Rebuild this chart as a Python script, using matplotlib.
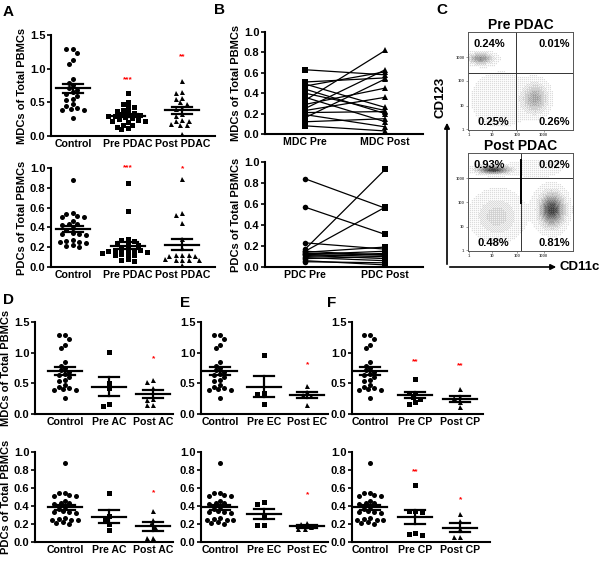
import numpy as np
import matplotlib.pyplot as plt
from matplotlib.patches import FancyArrowPatch

plt.rcParams['font.family'] = ['Liberation Sans', 'DejaVu Sans']
plt.rcParams['font.weight'] = 'bold'
plt.rcParams['axes.labelweight'] = 'bold'

W, H = 600, 566

# --- panel A / D / E / F data (fraction of total PBMCs) ---
mdc_control = [1.29, 1.29, 1.23, 1.13, 1.07, 0.84, 0.79, 0.75, 0.71, 0.69, 0.65,
               0.63, 0.60, 0.55, 0.53, 0.47, 0.44, 0.42, 0.39, 0.39, 0.40, 0.26]
mdc_pre_pdac = [0.64, 0.51, 0.47, 0.43, 0.43, 0.39, 0.37, 0.35, 0.34, 0.32, 0.31, 0.30,
                0.29, 0.28, 0.27, 0.25, 0.24, 0.22, 0.22, 0.21, 0.17, 0.16, 0.14, 0.12, 0.10]
mdc_post_pdac = [0.82, 0.66, 0.64, 0.57, 0.55, 0.50, 0.47, 0.42, 0.40, 0.33, 0.30,
                 0.24, 0.23, 0.22, 0.18, 0.17, 0.16, 0.03]
pdc_control = [0.88, 0.55, 0.54, 0.52, 0.51, 0.51, 0.46, 0.43, 0.43, 0.42, 0.39, 0.37,
               0.34, 0.33, 0.33, 0.32, 0.27, 0.26, 0.25, 0.24, 0.22, 0.21, 0.20, 0.25]
pdc_pre_pdac = [0.85, 0.57, 0.28, 0.27, 0.26, 0.24, 0.23, 0.22, 0.18, 0.18, 0.17, 0.17,
                0.17, 0.16, 0.15, 0.14, 0.13, 0.13, 0.12, 0.12, 0.08, 0.07, 0.06]
pdc_post_pdac = [0.89, 0.55, 0.53, 0.44, 0.28, 0.19, 0.12, 0.12, 0.12, 0.11, 0.11,
                 0.07, 0.07, 0.07, 0.07, 0.08, 0.02]

mdc_pre_ac = [1.01, 0.50, 0.42, 0.16, 0.13]
mdc_post_ac = [0.55, 0.52, 0.42, 0.25, 0.23, 0.15, 0.15]
pdc_pre_ac = [0.54, 0.29, 0.25, 0.20, 0.13]
pdc_post_ac = [0.35, 0.25, 0.20, 0.17, 0.04, 0.04]

mdc_pre_ec = [0.96, 0.34, 0.32, 0.17]
mdc_post_ec = [0.45, 0.36, 0.31, 0.30, 0.15]
pdc_pre_ec = [0.44, 0.42, 0.30, 0.19, 0.19]
pdc_post_ec = [0.21, 0.20, 0.17, 0.15, 0.14]

mdc_pre_cp = [0.57, 0.35, 0.34, 0.28, 0.25, 0.19, 0.17]
mdc_post_cp = [0.41, 0.28, 0.26, 0.19, 0.11]
pdc_pre_cp = [0.63, 0.35, 0.34, 0.33, 0.10, 0.09, 0.08]
pdc_post_cp = [0.31, 0.23, 0.14, 0.06, 0.06]

# --- panel B paired data ---
b_mdc_pre = [0.63, 0.51, 0.49, 0.47, 0.44, 0.40, 0.36, 0.33, 0.29, 0.25, 0.23, 0.21, 0.19, 0.16, 0.12, 0.08]
b_mdc_post = [0.58, 0.55, 0.26, 0.61, 0.20, 0.23, 0.12, 0.82, 0.45, 0.63, 0.36, 0.22, 0.07, 0.54, 0.15, 0.03]
b_pdc_pre = [0.84, 0.57, 0.23, 0.17, 0.15, 0.14, 0.13, 0.12, 0.12, 0.11, 0.10, 0.09, 0.08, 0.06, 0.05, 0.15]
b_pdc_post = [0.56, 0.31, 0.17, 0.93, 0.57, 0.19, 0.12, 0.15, 0.10, 0.08, 0.13, 0.06, 0.10, 0.02, 0.04, 0.11]

# --- panel C: quadrant percentages and population centres (axes fraction) ---
pre_pcts = ['0.24%', '0.01%', '0.25%', '0.26%']
post_pcts = ['0.93%', '0.02%', '0.48%', '0.81%']
# (x, y, sx, sy, density)
pre_pops = [(0.12, 0.73, 0.07, 0.035, 0.55), (0.64, 0.32, 0.07, 0.09, 0.42),
            (0.30, 0.30, 0.17, 0.17, 0.08), (0.5, 0.5, 0.6, 0.6, 0.015)]
post_pops = [(0.24, 0.83, 0.09, 0.025, 1.0), (0.80, 0.42, 0.07, 0.10, 0.95),
             (0.27, 0.35, 0.13, 0.13, 0.18), (0.65, 0.85, 0.18, 0.06, 0.05), (0.5, 0.5, 0.6, 0.6, 0.02)]
flow_ticks = ['1', '10', '100', '1000']

fig = plt.figure(figsize=(6, 5.66), dpi=100)


def box(x0, y0, x1, y1):
    return fig.add_axes([x0 / W, 1 - y1 / H, (x1 - x0) / W, (y1 - y0) / H])


def style(ax, ylim, yticks):
    for s in ['top', 'right']:
        ax.spines[s].set_visible(False)
    for s in ['left', 'bottom']:
        ax.spines[s].set_linewidth(1.5)
    ax.set_ylim(*ylim)
    ax.set_yticks(yticks)
    ax.set_yticklabels(['%.1f' % t for t in yticks])
    ax.tick_params(axis='y', length=3, width=1.2, pad=1, labelsize=8)
    ax.tick_params(axis='x', length=0, pad=2, labelsize=7.6)


def swarm(vals, xs, ys, d=4.8):
    # simple beeswarm: spread points that overlap in pixel space
    vals = np.asarray(vals)
    cand = np.arange(-8, 8.01, 0.5) * d * 0.9
    cand = cand[np.argsort(np.abs(cand), kind='stable')]
    placed, off = [], np.zeros(len(vals))
    for i in np.argsort(vals)[::-1]:
        y = vals[i] * ys
        for x in cand:
            if all((x - px) ** 2 + (y - py) ** 2 >= d * d for px, py in placed):
                break
        placed.append((x, y))
        off[i] = x / xs
    return off


def dotplot(ax, groups, markers, labels, xlim, ylim, yticks, stars):
    style(ax, ylim, yticks)
    ax.set_xlim(*xlim)
    pos = ax.get_position()
    xs = pos.width * W / (xlim[1] - xlim[0])
    ys = pos.height * H / (ylim[1] - ylim[0])
    for i, (vals, m) in enumerate(zip(groups, markers)):
        vals = np.asarray(vals)
        off = swarm(vals, xs, ys)
        ax.plot(i + off, vals, m, color='k', ms=3.6, mew=0, ls='none', clip_on=False)
        mean = vals.mean()
        sem = vals.std(ddof=1) / np.sqrt(len(vals))
        ax.plot([i - 17 / xs, i + 17 / xs], [mean, mean], 'k', lw=1.6)
        for v in (mean - sem, mean + sem):
            ax.plot([i - 10 / xs, i + 10 / xs], [v, v], 'k', lw=1.6)
        ax.plot([i, i], [mean - sem, mean + sem], 'k', lw=1.6)
    for i, y, t in stars:
        ax.text(i, y, t, color='red', fontsize=6, ha='center', va='center')
    ax.set_xticks(range(len(labels)))
    ax.set_xticklabels(labels)


mdc_y = ((0, 1.5), [0, 0.5, 1.0, 1.5])
pdc_y = ((0, 1.0), [0, 0.2, 0.4, 0.6, 0.8, 1.0])
mk = ['o', 's', '^']

# Panel A
ax = box(51, 35, 215, 136)
dotplot(ax, [mdc_control, mdc_pre_pdac, mdc_post_pdac], mk, ['Control', 'Pre PDAC', 'Post PDAC'],
        (-0.4, 2.6), *mdc_y, [(1, 0.84, '***'), (2, 1.18, '**')])
ax.set_ylabel('MDCs of Total PBMCs', fontsize=8, labelpad=2)
ax = box(51, 168, 215, 267)
dotplot(ax, [pdc_control, pdc_pre_pdac, pdc_post_pdac], mk, ['Control', 'Pre PDAC', 'Post PDAC'],
        (-0.4, 2.6), *pdc_y, [(1, 1.0, '***'), (2, 0.99, '*')])
ax.set_ylabel('PDCs of Total PBMCs', fontsize=8, labelpad=2)

# Panel B
for (y0, y1), pre, post, m0, m1, labs, yl in [
        ((32, 134), b_mdc_pre, b_mdc_post, 's', '^', ['MDC Pre', 'MDC Post'], 'MDCs of Total PBMCs'),
        ((162, 267), b_pdc_pre, b_pdc_post, 'o', 's', ['PDC Pre', 'PDC Post'], 'PDCs of Total PBMCs')]:
    ax = box(265, y0, 423, y1)
    style(ax, *pdc_y)
    ax.set_xlim(-0.5, 1.47)
    for a, b in zip(pre, post):
        ax.plot([0, 1], [a, b], 'k-', lw=0.9)
    ax.plot(np.zeros(len(pre)), pre, m0, color='k', ms=4.0, mew=0, ls='none', clip_on=False)
    ax.plot(np.ones(len(post)), post, m1, color='k', ms=4.0, mew=0, ls='none', clip_on=False)
    ax.set_xticks([0, 1])
    ax.set_xticklabels(labs)
    ax.set_ylabel(yl, fontsize=8, labelpad=2)

# 4x4 ordered-dither matrix, used to turn the population density into dots
bayer = np.array([[0, 8, 2, 10], [12, 4, 14, 6], [3, 11, 1, 9], [15, 7, 13, 5]]) / 16.0 + 1 / 32


# Panel C: flow plots
def flow(y0, y1, pops, gx, gy, pcts, title, seg=None):
    ax = box(468, y0, 573, y1)
    nx, ny = 210, 196
    xx, yy = np.meshgrid(np.linspace(0, 1, nx), np.linspace(0, 1, ny))
    z = np.zeros_like(xx)
    for cx, cy, sx, sy, w in pops:
        z += w * np.exp(-((xx - cx) ** 2 / (2 * sx ** 2) + (yy - cy) ** 2 / (2 * sy ** 2)))
    thr = np.tile(bayer, (ny // 4 + 1, nx // 4 + 1))[:ny, :nx]
    dots = (z > thr).astype(float) * 0.8
    ax.imshow(dots, extent=[0, 1, 0, 1], origin='lower', cmap='Greys', vmin=0, vmax=1,
              aspect='auto', interpolation='antialiased')
    ax.axvline(gx, color='#333333', lw=0.7)
    ax.axhline(gy, color='#333333', lw=0.7)
    if seg:
        ax.plot([gx, gx], seg, color='k', lw=1.4)
    for s in ax.spines.values():
        s.set_linewidth(0.7)
        s.set_color('#555555')
    ax.set_xlim(0, 1)
    ax.set_ylim(0, 1)
    ax.set_xticks([0.01, 0.23, 0.47, 0.72])
    ax.set_xticklabels(flow_ticks)
    ax.set_yticks([0.01, 0.25, 0.50, 0.74])
    ax.set_yticklabels(flow_ticks)
    ax.tick_params(length=1.5, width=0.4, labelsize=3, pad=1, colors='#555555')
    kw = dict(fontsize=8, fontweight='bold', va='center', transform=ax.transAxes)
    ax.text(0.20, 0.88, pcts[0], ha='center', **kw)
    ax.text(0.97, 0.88, pcts[1], ha='right', **kw)
    ax.text(0.24, 0.08, pcts[2], ha='center', **kw)
    ax.text(0.97, 0.08, pcts[3], ha='right', **kw)
    ax.set_title(title, fontsize=10, fontweight='bold', pad=1)


flow(32, 130, pre_pops, 0.46, 0.58, pre_pcts, 'Pre PDAC')
flow(153, 251, post_pops, 0.50, 0.74, post_pcts, 'Post PDAC', seg=(0.49, 0.93))

ox, oy = 447 / W, 1 - 267 / H
fig.add_artist(FancyArrowPatch((ox, oy), (ox, 1 - 120 / H), transform=fig.transFigure,
                               arrowstyle='-|>', mutation_scale=8, lw=1.2, color='k'))
fig.add_artist(FancyArrowPatch((ox, oy), (559 / W, oy), transform=fig.transFigure,
                               arrowstyle='-|>', mutation_scale=8, lw=1.2, color='k'))
fig.text(560 / W, oy, 'CD11c', fontsize=9.5, fontweight='bold', va='center')
fig.text(441 / W, 1 - 97 / H, 'CD123', fontsize=9.5, fontweight='bold', va='center',
         ha='center', rotation=90)

# Panels D, E, F
for (x0, x1, x1b, xl), pre_m, post_m, pre_p, post_p, tag, smdc, spdc in [
        ((35, 173, 173, (-0.68, 2.45)), mdc_pre_ac, mdc_post_ac, pdc_pre_ac, pdc_post_ac, 'AC',
         [(2, 0.90, '*')], [(2, 0.55, '*')]),
        ((201, 328, 328, (-0.44, 2.48)), mdc_pre_ec, mdc_post_ec, pdc_pre_ec, pdc_post_ec, 'EC',
         [(2, 0.80, '*')], [(2, 0.52, '*')]),
        ((352, 483, 490, (-0.4, 2.5)), mdc_pre_cp, mdc_post_cp, pdc_pre_cp, pdc_post_cp, 'CP',
         [(1, 0.86, '**'), (2, 0.78, '**')], [(1, 0.785, '**'), (2, 0.47, '*')])]:
    labs = ['Control', 'Pre ' + tag, 'Post ' + tag]
    ax = box(x0, 322, x1, 414)
    dotplot(ax, [mdc_control, pre_m, post_m], mk, labs, xl, *mdc_y, smdc)
    if tag == 'AC':
        ax.set_ylabel('MDCs of Total PBMCs', fontsize=8, labelpad=2)
    xl2 = (xl[0], xl[0] + (xl[1] - xl[0]) * (x1b - x0) / (x1 - x0))
    ax = box(x0, 452, x1b, 542)
    dotplot(ax, [pdc_control, pre_p, post_p], mk, labs, xl2, *pdc_y, spdc)
    if tag == 'AC':
        ax.set_ylabel('PDCs of Total PBMCs', fontsize=8, labelpad=2)

for t, x, y in [('A', 8, 12), ('B', 220, 10), ('C', 442, 10), ('D', 8, 300), ('E', 185, 303), ('F', 332, 303)]:
    fig.text(x / W, 1 - y / H, t, fontsize=11, fontweight='bold', va='center', ha='center')

fig.savefig('out.png', dpi=100)
